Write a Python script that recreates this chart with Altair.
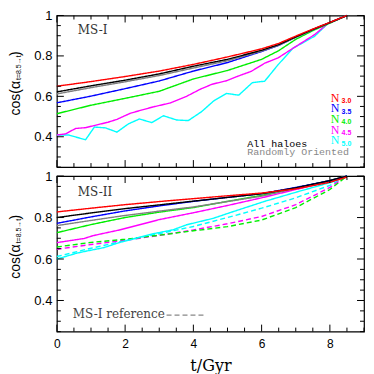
import altair as alt
import numpy as np
import pandas as pd

# ---------------- data: top panel (MS-I) ----------------
T_TOP = [0, 1, 2, 3, 4, 5, 6, 6.5, 7, 7.5, 8, 8.5]
TOP_N30 = [0.650, 0.673, 0.698, 0.725, 0.758, 0.795, 0.835, 0.862, 0.898, 0.933, 0.966, 1.0]
TOP_ALL = [0.622, 0.652, 0.680, 0.711, 0.749, 0.783, 0.828, 0.856, 0.894, 0.931, 0.965, 1.0]
TOP_RAND = [0.612, 0.643, 0.672, 0.703, 0.740, 0.776, 0.824, 0.853, 0.892, 0.930, 0.965, 1.0]
TOP_N35 = [0.568, 0.601, 0.638, 0.676, 0.725, 0.767, 0.822, 0.852, 0.893, 0.930, 0.965, 1.0]
TOP_N40 = [0.514, 0.556, 0.590, 0.625, 0.686, 0.728, 0.783, 0.826, 0.882, 0.925, 0.962, 1.0]
TOP_N45_T = [0, 0.25, 0.55, 0.84, 1.18, 1.5, 1.76, 2.15, 2.5, 2.83, 3.32, 3.8,
             4.2, 4.55, 4.97, 5.31, 5.7, 6.09, 6.48, 6.92, 7.55, 7.94, 8.5]
TOP_N45 = [0.409, 0.414, 0.441, 0.445, 0.459, 0.472, 0.486, 0.516, 0.533, 0.548, 0.567, 0.600,
           0.635, 0.660, 0.677, 0.700, 0.724, 0.764, 0.790, 0.838, 0.905, 0.960, 1.0]
TOP_N50_T = [0, 0.34, 0.84, 1.1, 1.42, 1.76, 2.1, 2.42, 2.78, 3.12, 3.51, 3.85,
             4.24, 4.6, 4.97, 5.33, 5.73, 6.09, 6.48, 6.92, 7.55, 7.94, 8.5]
TOP_N50 = [0.409, 0.409, 0.385, 0.448, 0.444, 0.423, 0.464, 0.488, 0.470, 0.504, 0.483, 0.480,
           0.524, 0.578, 0.614, 0.606, 0.668, 0.675, 0.756, 0.838, 0.897, 0.960, 1.0]

# ---------------- data: bottom panel (MS-II) ----------------
T_BOT = [0, 1, 2, 3, 4, 5, 6, 7, 8, 8.5]
BOT_N30 = [0.827, 0.845, 0.862, 0.877, 0.891, 0.905, 0.918, 0.938, 0.970, 0.995]
BOT_ALL = [0.800, 0.822, 0.843, 0.861, 0.879, 0.897, 0.915, 0.943, 0.978, 1.0]
BOT_N35 = [0.772, 0.803, 0.832, 0.856, 0.878, 0.897, 0.915, 0.945, 0.978, 1.0]
BOT_RAND = [0.761, 0.786, 0.810, 0.831, 0.851, 0.877, 0.903, 0.940, 0.978, 1.0]
BOT_N40 = [0.727, 0.766, 0.800, 0.826, 0.848, 0.878, 0.907, 0.943, 0.978, 1.0]
BOT_N45_T = [0, 0.8, 1.07, 1.86, 3, 4, 5, 6, 7, 8, 8.5]
BOT_N45 = [0.679, 0.699, 0.713, 0.741, 0.790, 0.823, 0.858, 0.895, 0.935, 0.975, 1.0]
BOT_N50_T = [0, 0.58, 0.89, 1.38, 1.86, 2.83, 3.41, 3.8, 4.58, 5.12, 6.09, 7.07, 8.04, 8.5]
BOT_N50 = [0.600, 0.628, 0.639, 0.655, 0.681, 0.722, 0.741, 0.765, 0.796, 0.826, 0.878, 0.925, 0.970, 1.0]
REF_N50 = [0.612, 0.652, 0.688, 0.722, 0.757, 0.800, 0.845, 0.895, 0.955, 1.0]
REF_N45 = [0.647, 0.670, 0.690, 0.714, 0.740, 0.770, 0.805, 0.862, 0.945, 1.0]
REF_N40 = [0.658, 0.680, 0.695, 0.715, 0.736, 0.756, 0.788, 0.848, 0.935, 1.0]

SERIES = ["N5.0", "N4.5", "N4.0", "N3.5", "Randomly Oriented", "All haloes", "N3.0"]
COLORS = ["#00ffff", "#ff00ff", "#00ee00", "#0000ff", "#808080", "#000000", "#ff0000"]
LEGEND_SUBS = ["3.0", "3.5", "4.0", "4.5", "5.0"]
LEGEND_COLORS = ["#ff0000", "#0000ff", "#00ee00", "#ff00ff", "#00ffff"]


def rows(series, ts, vs, dash="solid"):
    return [{"series": series, "dash": dash, "key": series + dash, "t": t, "v": v}
            for t, v in zip(ts, vs)]


top_rows = (rows("N5.0", TOP_N50_T, TOP_N50) + rows("N4.5", TOP_N45_T, TOP_N45)
            + rows("N4.0", T_TOP, TOP_N40) + rows("N3.5", T_TOP, TOP_N35)
            + rows("Randomly Oriented", T_TOP, TOP_RAND) + rows("All haloes", T_TOP, TOP_ALL)
            + rows("N3.0", T_TOP, TOP_N30))
bot_rows = (rows("N5.0", T_BOT, REF_N50, "dashed") + rows("N4.5", T_BOT, REF_N45, "dashed")
            + rows("N4.0", T_BOT, REF_N40, "dashed")
            + rows("N5.0", BOT_N50_T, BOT_N50) + rows("N4.5", BOT_N45_T, BOT_N45)
            + rows("N4.0", T_BOT, BOT_N40) + rows("Randomly Oriented", T_BOT, BOT_RAND)
            + rows("N3.5", T_BOT, BOT_N35) + rows("All haloes", T_BOT, BOT_ALL)
            + rows("N3.0", T_BOT, BOT_N30))
df_top = pd.DataFrame(top_rows)
df_bot = pd.DataFrame(bot_rows)

W = 308
H_TOP = 152
H_BOT = 156

xs = alt.Scale(domain=[0, 9], nice=False, zero=False)
ys = alt.Scale(domain=[0.25, 1.0], nice=False, zero=False)

XMAJ = [0, 2, 4, 6, 8]
XMIN = [x for x in np.round(np.arange(0, 9.001, 0.5), 2) if x not in XMAJ]
YMAJ = [0.4, 0.6, 0.8, 1.0]
YMIN = [y for y in np.round(np.arange(0.25, 1.0001, 0.05), 2) if y not in YMAJ]

yaxis = alt.Axis(values=YMAJ, labelExpr="datum.value == 1 ? '1' : format(datum.value, '.1f')",
                 ticks=False, tickSize=0, domain=False, grid=False, title=None,
                 labelFont="Liberation Sans", labelFontSize=13, labelPadding=5,
                 labelColor="black", labelFlush=False)
xaxis_bot = alt.Axis(values=XMAJ, format="d", ticks=False, tickSize=0, domain=False, grid=False,
                     title="t/Gyr", titleFont="DejaVu Serif", titleFontSize=16,
                     titleFontWeight="normal", titleColor="black", titlePadding=8,
                     labelFont="Liberation Sans", labelFontSize=12, labelPadding=7,
                     labelColor="black", labelFlush=False)


def lines(df, xaxis):
    return alt.Chart(df).mark_line(strokeWidth=1.4).encode(
        x=alt.X("t:Q", scale=xs, axis=xaxis),
        y=alt.Y("v:Q", scale=ys, axis=yaxis),
        color=alt.Color("series:N", scale=alt.Scale(domain=SERIES, range=COLORS), legend=None),
        strokeDash=alt.StrokeDash("dash:N", scale=alt.Scale(domain=["solid", "dashed"],
                                                             range=[[1, 0], [5, 3]]), legend=None),
        detail="key:N",
    )


def tick_layers(H, xaxis):
    out = []
    for vals, L in ((XMAJ, 7), (XMIN, 4)):
        d = pd.DataFrame({"t": vals})
        out.append(alt.Chart(d).mark_rule(color="black", strokeWidth=1).encode(
            x=alt.X("t:Q", scale=xs, axis=xaxis), y=alt.value(H - L), y2=alt.value(H)))
        out.append(alt.Chart(d).mark_rule(color="black", strokeWidth=1).encode(
            x=alt.X("t:Q", scale=xs, axis=xaxis), y=alt.value(0), y2=alt.value(L)))
    for vals, L in ((YMAJ, 7), (YMIN, 4)):
        d = pd.DataFrame({"v": vals})
        out.append(alt.Chart(d).mark_rule(color="black", strokeWidth=1).encode(
            y=alt.Y("v:Q", scale=ys, axis=yaxis), x=alt.value(0), x2=alt.value(L)))
        out.append(alt.Chart(d).mark_rule(color="black", strokeWidth=1).encode(
            y=alt.Y("v:Q", scale=ys, axis=yaxis), x=alt.value(W - L), x2=alt.value(W)))
    return out


def txt(s, x, y, **kw):
    return alt.Chart(pd.DataFrame({"s": [s]})).mark_text(**kw).encode(
        x=alt.value(x), y=alt.value(y), text="s:N")


def ytitle(pend):
    return [
        txt("cos(α", -48, pend, angle=270, align="right", baseline="top",
            font="Liberation Sans", fontSize=14, color="black"),
        txt("t=8.5→t", -41.5, pend - 1, angle=270, align="left", baseline="top",
            font="Liberation Sans", fontSize=7, color="black"),
        txt(")", -48, pend - 25, angle=270, align="left", baseline="top",
            font="Liberation Sans", fontSize=14, color="black"),
    ]


# ---- top panel ----
top_layers = [lines(df_top, None)] + tick_layers(H_TOP, None) + ytitle(65.7)
top_layers.append(txt("MS-I", 21, 18.6, align="left", baseline="alphabetic",
                      font="DejaVu Serif", fontSize=12, color="#333333"))
for i, (sub, col) in enumerate(zip(LEGEND_SUBS, LEGEND_COLORS)):
    yb = 86.6 + i * 10.6
    top_layers.append(txt("N", 274.7, yb, align="left", baseline="alphabetic",
                          font="Liberation Serif", fontSize=12, color=col))
    top_layers.append(txt(sub, 285.5, yb + 1.5, align="left", baseline="alphabetic",
                          font="Liberation Sans", fontSize=7, fontWeight="bold", color=col))
top_layers.append(txt("All haloes", 191, 131.5, align="left", baseline="alphabetic",
                      font="Liberation Mono", fontSize=10, color="#000000"))
top_layers.append(txt("Randomly Oriented", 191, 140, align="left", baseline="alphabetic",
                      font="Liberation Mono", fontSize=10, color="#888888"))
top = alt.layer(*top_layers).properties(width=W, height=H_TOP)

# ---- bottom panel ----
bot_layers = [lines(df_bot, xaxis_bot)] + tick_layers(H_BOT, xaxis_bot) + ytitle(68.5)
bot_layers.append(txt("MS-II", 21, 19.6, align="left", baseline="alphabetic",
                      font="DejaVu Serif", fontSize=12, color="#333333"))
bot_layers.append(txt("MS-I reference", 16, 142, align="left", baseline="alphabetic",
                      font="DejaVu Serif", fontSize=12, color="#444444"))
bot_layers.append(alt.Chart(pd.DataFrame({"s": ["ref"]})).mark_rule(
    color="#888888", strokeWidth=1.2, strokeDash=[5, 3]).encode(
    x=alt.value(110), x2=alt.value(150), y=alt.value(139.4)))
bot = alt.layer(*bot_layers).properties(width=W, height=H_BOT)

chart = alt.vconcat(top, bot, spacing=0).properties(
    padding={"left": 0, "top": 0, "right": 0, "bottom": 3}, background="white") \
    .configure_view(stroke="black", strokeWidth=1.2) \
    .configure_concat(spacing=0)

chart.save("out.html", embed_options={"renderer": "svg", "actions": False})
